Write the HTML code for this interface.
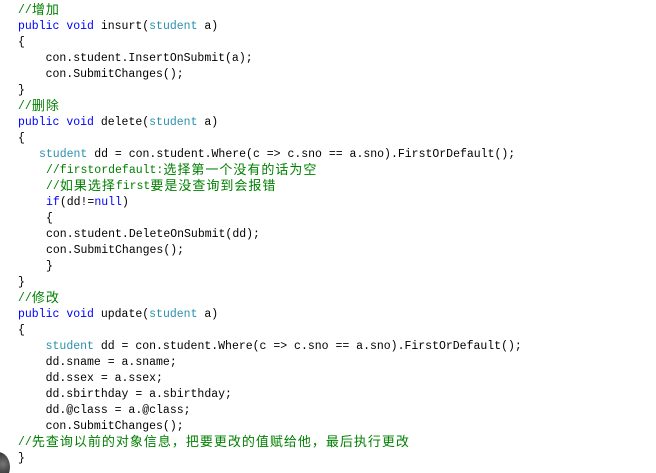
<!DOCTYPE html>
<html><head><meta charset="utf-8"><style>
html,body{margin:0;padding:0;background:#fff;width:656px;height:473px;overflow:hidden;position:relative}
.l{position:absolute;left:18px;height:16px;line-height:16px;white-space:pre;font-family:"Liberation Mono","Noto Sans CJK SC",monospace;font-size:11.5px;color:#000}
.k{color:#0000ff}.t{color:#2b91af}.c{color:#008000}
.z{font-family:"Noto Sans CJK SC","WenQuanYi Zen Hei",sans-serif;font-size:13px;letter-spacing:1px;line-height:12px;display:inline-block;vertical-align:-1px}
.blob{position:absolute;left:-14px;top:452px;width:24px;height:30px;border-radius:50%;background:radial-gradient(circle at 70% 40%,#777,#222 60%)}
</style></head><body>
<div class="l" style="top:3px"><span class="c">//<span class="z">增加</span></span></div>
<div class="l" style="top:19px"><span class="k">public</span> <span class="k">void</span> insurt(<span class="t">student</span> a)</div>
<div class="l" style="top:35px">{</div>
<div class="l" style="top:51px">    con.student.InsertOnSubmit(a);</div>
<div class="l" style="top:67px">    con.SubmitChanges();</div>
<div class="l" style="top:83px">}</div>
<div class="l" style="top:99px"><span class="c">//<span class="z">删除</span></span></div>
<div class="l" style="top:115px"><span class="k">public</span> <span class="k">void</span> delete(<span class="t">student</span> a)</div>
<div class="l" style="top:131px">{</div>
<div class="l" style="top:147px;left:39px"><span class="t">student</span> dd = con.student.Where(c =&gt; c.sno == a.sno).FirstOrDefault();</div>
<div class="l" style="top:163px;left:46px"><span class="c">//firstordefault:<span class="z">选择第一个没有的话为空</span></span></div>
<div class="l" style="top:179px;left:46px"><span class="c">//<span class="z">如果选择</span>first<span class="z">要是没查询到会报错</span></span></div>
<div class="l" style="top:195px;left:46px"><span class="k">if</span>(dd!=<span class="k">null</span>)</div>
<div class="l" style="top:211px;left:46px">{</div>
<div class="l" style="top:227px;left:46px">con.student.DeleteOnSubmit(dd);</div>
<div class="l" style="top:243px;left:46px">con.SubmitChanges();</div>
<div class="l" style="top:259px;left:46px">}</div>
<div class="l" style="top:275px">}</div>
<div class="l" style="top:291px"><span class="c">//<span class="z">修改</span></span></div>
<div class="l" style="top:307px"><span class="k">public</span> <span class="k">void</span> update(<span class="t">student</span> a)</div>
<div class="l" style="top:323px">{</div>
<div class="l" style="top:339px">    <span class="t">student</span> dd = con.student.Where(c =&gt; c.sno == a.sno).FirstOrDefault();</div>
<div class="l" style="top:355px">    dd.sname = a.sname;</div>
<div class="l" style="top:371px">    dd.ssex = a.ssex;</div>
<div class="l" style="top:387px">    dd.sbirthday = a.sbirthday;</div>
<div class="l" style="top:403px">    dd.@class = a.@class;</div>
<div class="l" style="top:419px">    con.SubmitChanges();</div>
<div class="l" style="top:435px"><span class="c">//<span class="z">先查询以前的对象信息，把要更改的值赋给他，最后执行更改</span></span></div>
<div class="l" style="top:451px">}</div>
<div class="blob"></div>
</body></html>
